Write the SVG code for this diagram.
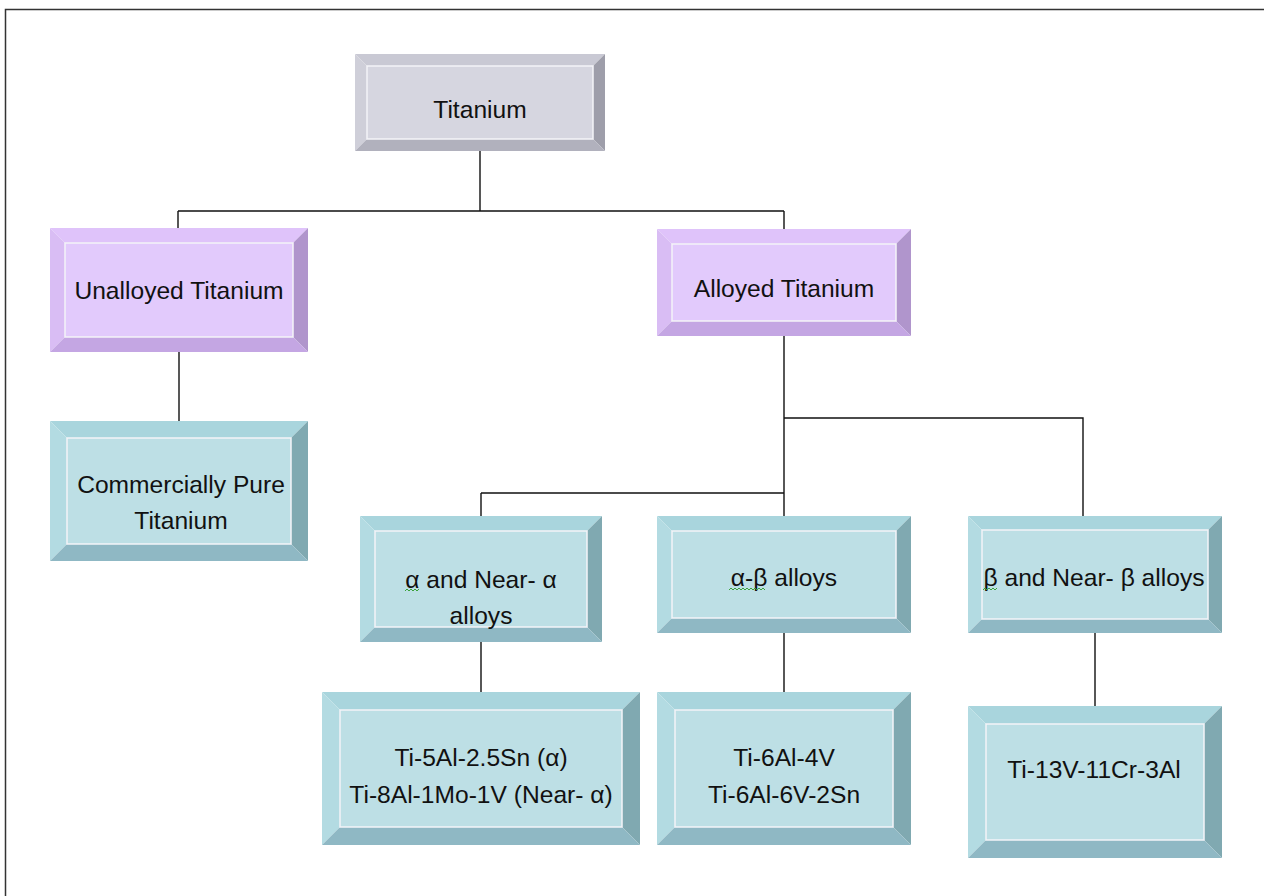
<svg xmlns="http://www.w3.org/2000/svg" width="1264" height="896" viewBox="0 0 1264 896">
<style>
  .lbl{font-family:"Liberation Sans",Arial,sans-serif;font-size:24.6px;fill:#111;text-anchor:middle}
  .conn{stroke:#111;stroke-width:1.4;fill:none}
  .inner{fill:none;stroke:#f4f4f8;stroke-width:1.5}
  .g .face{fill:#d6d6e0}.g .top{fill:#c9c9d4}.g .left{fill:#cfcfd9}.g .right{fill:#9e9eaa}.g .bot{fill:#b1b1bd}
  .p .face{fill:#e2cafc}.p .top{fill:#dfc3fa}.p .left{fill:#d9bdf4}.p .right{fill:#b095cc}.p .bot{fill:#c4a6e3}
  .t .face{fill:#bddfe5}.t .top{fill:#a9d5dd}.t .left{fill:#b3dbe2}.t .right{fill:#80a9b1}.t .bot{fill:#8fb8c4}
  .sq{fill:none;stroke:#3aa13a;stroke-width:1}
</style>
<rect x="5.5" y="9.5" width="1300" height="900" fill="#fff" stroke="#333" stroke-width="1.5"/>
<g id="connectors">
  <path class="conn" d="M480,151 V211 M178,211 H784 M178,211 V228 M784,211 V229"/>
  <path class="conn" d="M179,352 V421" stroke="#555"/>
  <path class="conn" d="M784,336 V516 M784,418 H1083 V516 M481,493 H784 M481,493 V516"/>
  <path class="conn" d="M481,642 V692 M784,633 V692 M1095,633 V706"/>
</g>
<g id="n-titanium" class="g">
  <polygon class="top" points="355,54 605,54 593,66 367,66"/>
  <polygon class="left" points="355,54 367,66 367,139 355,151"/>
  <polygon class="right" points="605,54 605,151 593,139 593,66"/>
  <polygon class="bot" points="355,151 367,139 593,139 605,151"/>
  <rect class="face" x="367" y="66" width="226" height="73"/>
  <rect class="inner" x="367" y="66" width="226" height="73"/>
  <text class="lbl" x="480" y="118">Titanium</text>
</g>
<g id="n-unalloyed" class="p">
  <polygon class="top" points="50,228 308,228 293,243 65,243"/>
  <polygon class="left" points="50,228 65,243 65,337 50,352"/>
  <polygon class="right" points="308,228 308,352 293,337 293,243"/>
  <polygon class="bot" points="50,352 65,337 293,337 308,352"/>
  <rect class="face" x="65" y="243" width="228" height="94"/>
  <rect class="inner" x="65" y="243" width="228" height="94"/>
  <text class="lbl" x="179" y="299">Unalloyed Titanium</text>
</g>
<g id="n-alloyed" class="p">
  <polygon class="top" points="657,229 911,229 896,244 672,244"/>
  <polygon class="left" points="657,229 672,244 672,321 657,336"/>
  <polygon class="right" points="911,229 911,336 896,321 896,244"/>
  <polygon class="bot" points="657,336 672,321 896,321 911,336"/>
  <rect class="face" x="672" y="244" width="224" height="77"/>
  <rect class="inner" x="672" y="244" width="224" height="77"/>
  <text class="lbl" x="784" y="297">Alloyed Titanium</text>
</g>
<g id="n-cp" class="t">
  <polygon class="top" points="50,421 308,421 291,438 67,438"/>
  <polygon class="left" points="50,421 67,438 67,544 50,561"/>
  <polygon class="right" points="308,421 308,561 291,544 291,438"/>
  <polygon class="bot" points="50,561 67,544 291,544 308,561"/>
  <rect class="face" x="67" y="438" width="224" height="106"/>
  <rect class="inner" x="67" y="438" width="224" height="106"/>
  <text class="lbl" x="181" y="493">Commercially Pure</text>
  <text class="lbl" x="181" y="529">Titanium</text>
</g>
<g id="n-alpha" class="t">
  <polygon class="top" points="360,516 602,516 587,531 375,531"/>
  <polygon class="left" points="360,516 375,531 375,627 360,642"/>
  <polygon class="right" points="602,516 602,642 587,627 587,531"/>
  <polygon class="bot" points="360,642 375,627 587,627 602,642"/>
  <rect class="face" x="375" y="531" width="212" height="96"/>
  <rect class="inner" x="375" y="531" width="212" height="96"/>
  <text class="lbl" x="481" y="588">α and Near- α</text>
  <text class="lbl" x="481" y="624">alloys</text>
  <path class="sq" d="M405,591 l2,-2 l2,2 l2,-2 l2,2 l2,-2 l2,2 l2,-2"/>
</g>
<g id="n-alphabeta" class="t">
  <polygon class="top" points="657,516 911,516 896,531 672,531"/>
  <polygon class="left" points="657,516 672,531 672,618 657,633"/>
  <polygon class="right" points="911,516 911,633 896,618 896,531"/>
  <polygon class="bot" points="657,633 672,618 896,618 911,633"/>
  <rect class="face" x="672" y="531" width="224" height="87"/>
  <rect class="inner" x="672" y="531" width="224" height="87"/>
  <text class="lbl" x="784" y="586">α-β alloys</text>
  <path class="sq" d="M729,590 l2,-2 l2,2 l2,-2 l2,2 l2,-2 l2,2 l2,-2 l2,2 l2,-2 l2,2 l2,-2 l2,2 l2,-2 l2,2 l2,-2 l2,2 l2,-2 l2,2"/>
</g>
<g id="n-beta" class="t">
  <polygon class="top" points="968,516 1222,516 1208,530 982,530"/>
  <polygon class="left" points="968,516 982,530 982,619 968,633"/>
  <polygon class="right" points="1222,516 1222,633 1208,619 1208,530"/>
  <polygon class="bot" points="968,633 982,619 1208,619 1222,633"/>
  <rect class="face" x="982" y="530" width="226" height="89"/>
  <rect class="inner" x="982" y="530" width="226" height="89"/>
  <text class="lbl" x="1094" y="586">β and Near- β alloys</text>
  <path class="sq" d="M983,590 l2,-2 l2,2 l2,-2 l2,2 l2,-2 l2,2 l2,-2"/>
</g>
<g id="n-ti5al" class="t">
  <polygon class="top" points="322,692 640,692 622,710 340,710"/>
  <polygon class="left" points="322,692 340,710 340,827 322,845"/>
  <polygon class="right" points="640,692 640,845 622,827 622,710"/>
  <polygon class="bot" points="322,845 340,827 622,827 640,845"/>
  <rect class="face" x="340" y="710" width="282" height="117"/>
  <rect class="inner" x="340" y="710" width="282" height="117"/>
  <text class="lbl" x="481" y="766">Ti-5Al-2.5Sn (α)</text>
  <text class="lbl" x="481" y="803">Ti-8Al-1Mo-1V (Near- α)</text>
</g>
<g id="n-ti6al" class="t">
  <polygon class="top" points="657,692 911,692 893,710 675,710"/>
  <polygon class="left" points="657,692 675,710 675,827 657,845"/>
  <polygon class="right" points="911,692 911,845 893,827 893,710"/>
  <polygon class="bot" points="657,845 675,827 893,827 911,845"/>
  <rect class="face" x="675" y="710" width="218" height="117"/>
  <rect class="inner" x="675" y="710" width="218" height="117"/>
  <text class="lbl" x="784" y="766">Ti-6Al-4V</text>
  <text class="lbl" x="784" y="803">Ti-6Al-6V-2Sn</text>
</g>
<g id="n-ti13v" class="t">
  <polygon class="top" points="968,706 1222,706 1204,724 986,724"/>
  <polygon class="left" points="968,706 986,724 986,840 968,858"/>
  <polygon class="right" points="1222,706 1222,858 1204,840 1204,724"/>
  <polygon class="bot" points="968,858 986,840 1204,840 1222,858"/>
  <rect class="face" x="986" y="724" width="218" height="116"/>
  <rect class="inner" x="986" y="724" width="218" height="116"/>
  <text class="lbl" x="1094" y="778">Ti-13V-11Cr-3Al</text>
</g>
</svg>
